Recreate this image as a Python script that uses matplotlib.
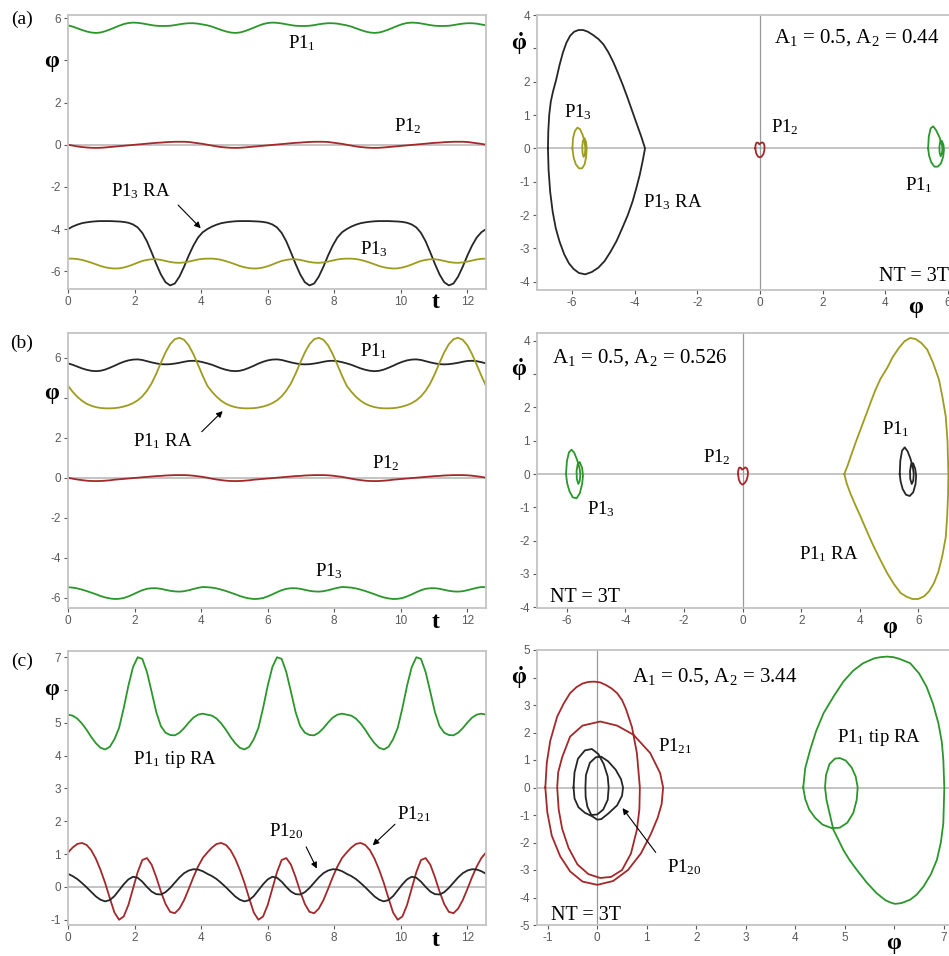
import numpy as np
import matplotlib
matplotlib.use('Agg')
import matplotlib.pyplot as plt

plt.rcParams['font.family'] = ['Liberation Serif', 'DejaVu Serif']
plt.rcParams['mathtext.fontset'] = 'custom'
plt.rcParams['mathtext.rm'] = 'Liberation Serif'
plt.rcParams['mathtext.it'] = 'Liberation Serif:italic'
plt.rcParams['mathtext.bf'] = 'Liberation Serif:bold'

# forcing period, NT = 3T over t in [0, 4*pi]
T = 4 * np.pi / 3
N_PER = 30

# ---- time series, one period each (30 samples, dt = T/30) ----
a_p11 = [5.66, 5.60, 5.52, 5.44, 5.37, 5.32, 5.30, 5.32, 5.38, 5.46,
         5.55, 5.64, 5.72, 5.77, 5.79, 5.78, 5.75, 5.71, 5.67, 5.64,
         5.63, 5.63, 5.64, 5.67, 5.71, 5.74, 5.76, 5.76, 5.74, 5.70]
a_p12 = [0.00, -0.04, -0.08, -0.11, -0.13, -0.145, -0.15, -0.145, -0.13, -0.11,
         -0.09, -0.07, -0.05, -0.03, -0.01, 0.01, 0.03, 0.05, 0.07, 0.09,
         0.10, 0.12, 0.13, 0.14, 0.14, 0.14, 0.13, 0.10, 0.07, 0.04]
a_p13ra = [-4.00, -3.88, -3.79, -3.72, -3.68, -3.65, -3.63, -3.62, -3.62, -3.62,
           -3.63, -3.64, -3.66, -3.70, -3.78, -3.92, -4.18, -4.58, -5.10, -5.65,
           -6.15, -6.52, -6.67, -6.58, -6.25, -5.78, -5.25, -4.78, -4.40, -4.15]
a_p13 = [-5.40, -5.40, -5.42, -5.46, -5.52, -5.59, -5.67, -5.75, -5.81, -5.85,
         -5.87, -5.86, -5.82, -5.76, -5.68, -5.59, -5.51, -5.46, -5.43, -5.43,
         -5.46, -5.51, -5.56, -5.59, -5.60, -5.58, -5.54, -5.49, -5.44, -5.41]

b_p11 = [5.72, 5.65, 5.56, 5.47, 5.40, 5.35, 5.33, 5.35, 5.41, 5.50,
         5.60, 5.71, 5.80, 5.87, 5.91, 5.92, 5.89, 5.83, 5.77, 5.72,
         5.68, 5.67, 5.68, 5.71, 5.75, 5.80, 5.84, 5.85, 5.83, 5.78]
b_p11ra = [4.60, 4.30, 4.05, 3.85, 3.70, 3.60, 3.53, 3.49, 3.47, 3.47,
           3.48, 3.51, 3.56, 3.63, 3.73, 3.87, 4.07, 4.35, 4.72, 5.20,
           5.75, 6.27, 6.68, 6.93, 7.00, 6.90, 6.62, 6.18, 5.65, 5.10]
b_p12 = [0.00, -0.05, -0.09, -0.12, -0.15, -0.165, -0.17, -0.165, -0.15, -0.13,
         -0.10, -0.08, -0.06, -0.04, -0.02, 0.00, 0.02, 0.04, 0.06, 0.08,
         0.09, 0.11, 0.12, 0.13, 0.13, 0.13, 0.12, 0.10, 0.07, 0.04]
b_p13 = [-5.48, -5.50, -5.54, -5.60, -5.67, -5.75, -5.83, -5.92, -5.99, -6.04,
         -6.07, -6.06, -6.02, -5.94, -5.84, -5.73, -5.63, -5.56, -5.53, -5.53,
         -5.56, -5.61, -5.66, -5.69, -5.70, -5.68, -5.63, -5.57, -5.51, -5.47]

c_tip = [5.25, 5.22, 5.13, 4.98, 4.79, 4.57, 4.38, 4.24, 4.19, 4.27,
         4.50, 4.85, 5.45, 6.13, 6.70, 7.00, 6.95, 6.55, 5.95, 5.33,
         4.90, 4.70, 4.63, 4.62, 4.70, 4.84, 5.01, 5.16, 5.25, 5.28]
c_p120 = [0.40, 0.33, 0.24, 0.12, -0.01, -0.15, -0.29, -0.39, -0.44, -0.40,
          -0.28, -0.10, 0.08, 0.23, 0.31, 0.28, 0.16, 0.00, -0.14, -0.22,
          -0.23, -0.16, -0.03, 0.13, 0.29, 0.42, 0.50, 0.54, 0.53, 0.48]
c_p121 = [1.05, 1.20, 1.31, 1.34, 1.28, 1.12, 0.86, 0.52, 0.12, -0.34,
          -0.78, -1.00, -0.90, -0.55, -0.05, 0.45, 0.82, 0.88, 0.68, 0.30,
          -0.14, -0.52, -0.76, -0.80, -0.66, -0.40, -0.06, 0.30, 0.62, 0.88]

# ---- phase portraits (phi, dphi), traced loops ----
a_ra_phi = [-6.77, -6.76, -6.73, -6.68, -6.61, -6.51, -6.40, -6.29, -6.18, -6.06, -5.93,
            -5.79, -5.65, -5.50, -5.33, -5.16, -5.00, -4.84, -4.68, -4.53, -4.38, -4.23,
            -4.08, -3.93, -3.79, -3.67,
            -3.75, -3.84, -3.95, -4.07, -4.22, -4.40, -4.58, -4.77, -4.96, -5.16, -5.37,
            -5.58, -5.78, -5.95, -6.10, -6.25, -6.40, -6.52, -6.62, -6.70, -6.75, -6.77]
a_ra_dphi = [0.00, 0.50, 1.00, 1.40, 1.70, 2.05, 2.50, 2.88, 3.17, 3.38, 3.50,
             3.55, 3.55, 3.50, 3.40, 3.28, 3.12, 2.88, 2.58, 2.25, 1.90, 1.52,
             1.12, 0.72, 0.35, 0.00,
             -0.40, -0.80, -1.20, -1.60, -2.00, -2.40, -2.78, -3.10, -3.38, -3.58, -3.71,
             -3.78, -3.74, -3.62, -3.45, -3.18, -2.80, -2.40, -1.90, -1.30, -0.65, 0.00]
a_p13_phi = [-5.99, -5.97, -5.91, -5.83, -5.75, -5.67, -5.60, -5.575, -5.59, -5.63, -5.665, -5.675,
             -5.655, -5.60, -5.55, -5.535, -5.55, -5.60, -5.68, -5.78, -5.88, -5.95, -5.99]
a_p13_dphi = [0.0, 0.30, 0.52, 0.62, 0.58, 0.42, 0.20, 0.0, -0.18, -0.26, -0.15, 0.05,
              0.22, 0.30, 0.18, 0.0, -0.25, -0.48, -0.60, -0.60, -0.48, -0.28, 0.0]
a_p11_phi = [5.37, 5.39, 5.45, 5.53, 5.62, 5.72, 5.80, 5.83, 5.81, 5.77, 5.735, 5.73,
             5.76, 5.81, 5.86, 5.875, 5.85, 5.78, 5.68, 5.57, 5.47, 5.40, 5.37]
a_p11_dphi = [0.0, 0.35, 0.60, 0.66, 0.55, 0.36, 0.15, 0.0, -0.15, -0.24, -0.12, 0.06,
              0.22, 0.22, 0.10, -0.05, -0.25, -0.45, -0.55, -0.55, -0.42, -0.22, 0.0]
a_p12_phi = [-0.15, -0.14, -0.11, -0.06, -0.02, 0.02, 0.07, 0.12, 0.145, 0.14,
             0.11, 0.05, -0.01, -0.07, -0.12, -0.15]
a_p12_dphi = [0.0, 0.10, 0.17, 0.17, 0.12, 0.15, 0.18, 0.15, 0.06, -0.06,
              -0.17, -0.25, -0.27, -0.24, -0.15, 0.0]

b_ra_phi = [3.47, 3.60, 3.73, 3.87, 4.02, 4.19, 4.36, 4.52, 4.70, 4.93, 5.13, 5.33, 5.52,
            5.71, 5.90, 6.10, 6.30, 6.50, 6.70, 6.82, 6.93, 6.99, 7.02,
            7.01, 6.98, 6.93, 6.81, 6.68, 6.53, 6.36, 6.19, 5.99, 5.79, 5.59, 5.39, 5.16,
            4.93, 4.70, 4.47, 4.24, 4.02, 3.84, 3.67, 3.55, 3.47]
b_ra_dphi = [0.00, 0.30, 0.63, 0.98, 1.33, 1.73, 2.13, 2.50, 2.85, 3.18, 3.52, 3.78, 3.98,
             4.08, 4.05, 3.93, 3.73, 3.33, 2.83, 2.30, 1.73, 1.00, 0.00,
             -0.60, -1.27, -1.90, -2.47, -2.93, -3.27, -3.52, -3.67, -3.75, -3.75, -3.68, -3.57, -3.30,
             -2.97, -2.58, -2.17, -1.72, -1.27, -0.92, -0.57, -0.28, 0.00]
b_p11_phi = [5.36, 5.38, 5.44, 5.53, 5.63, 5.73, 5.81, 5.84, 5.82, 5.77, 5.72, 5.71,
             5.75, 5.82, 5.89, 5.92, 5.90, 5.82, 5.70, 5.57, 5.46, 5.39, 5.36]
b_p11_dphi = [0.0, 0.40, 0.70, 0.80, 0.68, 0.45, 0.18, 0.0, -0.20, -0.30, -0.15, 0.08,
              0.30, 0.32, 0.15, -0.05, -0.30, -0.55, -0.66, -0.62, -0.45, -0.22, 0.0]
b_p13_phi = [-6.03, -6.00, -5.93, -5.84, -5.75, -5.65, -5.57, -5.54, -5.56, -5.61, -5.66, -5.67,
             -5.63, -5.56, -5.48, -5.45, -5.48, -5.56, -5.67, -5.80, -5.91, -5.99, -6.03]
b_p13_dphi = [0.0, 0.38, 0.65, 0.73, 0.64, 0.42, 0.18, 0.0, -0.20, -0.30, -0.15, 0.08,
              0.30, 0.36, 0.18, -0.05, -0.30, -0.58, -0.73, -0.70, -0.52, -0.28, 0.0]
b_p12_phi = [-0.16, -0.15, -0.12, -0.07, -0.02, 0.03, 0.09, 0.15, 0.18, 0.17,
             0.13, 0.06, -0.01, -0.08, -0.13, -0.16]
b_p12_dphi = [0.0, 0.11, 0.19, 0.19, 0.13, 0.16, 0.20, 0.16, 0.06, -0.07,
              -0.19, -0.28, -0.32, -0.27, -0.17, 0.0]

c_p121_phi = [-1.05, -1.02, -0.95, -0.81, -0.68, -0.55, -0.42, -0.30, -0.18, -0.06, 0.06, 0.18,
              0.29, 0.40, 0.50, 0.58, 0.70, 0.80, 0.86,
              0.85, 0.80, 0.68, 0.50, 0.28, 0.06, -0.18, -0.40, -0.58, -0.71, -0.78, -0.81,
              -0.79, -0.71, -0.55, -0.30, 0.06, 0.40, 0.73, 1.07, 1.27, 1.33,
              1.30, 1.22, 1.08, 0.88, 0.62, 0.32, 0.00, -0.30, -0.55, -0.75, -0.92, -1.01, -1.05]
c_p121_dphi = [0.0, 0.9, 1.7, 2.58, 3.05, 3.43, 3.65, 3.78, 3.84, 3.85, 3.82, 3.72,
               3.60, 3.43, 3.18, 2.85, 2.20, 1.25, 0.0,
               -0.8, -1.54, -2.40, -3.00, -3.25, -3.29, -3.15, -2.80, -2.20, -1.50, -0.80, 0.0,
               0.55, 1.10, 1.85, 2.25, 2.40, 2.25, 1.92, 1.25, 0.52, 0.0,
               -0.60, -1.10, -1.70, -2.40, -3.00, -3.40, -3.54, -3.42, -3.05, -2.50, -1.75, -0.90, 0.0]
c_p120_phi = [-0.48, -0.46, -0.39, -0.25, -0.11, 0.02, 0.13, 0.21, 0.23,
              0.21, 0.12, 0.00, -0.12, -0.20, -0.235, -0.24,
              -0.23, -0.15, -0.03, 0.08, 0.22, 0.37, 0.48, 0.52,
              0.50, 0.40, 0.22, 0.08, 0.00, -0.10, -0.25, -0.38, -0.46, -0.48]
c_p120_dphi = [0.0, 0.55, 1.05, 1.35, 1.40, 1.22, 0.85, 0.40, 0.0,
               -0.45, -0.80, -0.98, -1.00, -0.70, -0.35, 0.0,
               0.45, 0.90, 1.10, 1.12, 0.95, 0.65, 0.30, 0.0,
               -0.30, -0.65, -0.95, -1.15, -1.17, -1.05, -0.92, -0.72, -0.40, 0.0]
c_tip_phi = [4.16, 4.20, 4.30, 4.42, 4.57, 4.77, 4.97, 5.17, 5.37, 5.60, 5.72, 5.85, 5.98, 6.10,
             6.32, 6.50, 6.65, 6.78, 6.89, 6.96, 6.99, 7.01,
             6.99, 6.94, 6.86, 6.74, 6.59, 6.45, 6.32, 6.15, 6.08, 6.01, 5.92, 5.82, 5.64, 5.44,
             5.24, 5.10, 4.97, 4.87, 4.77, 4.70, 4.63, 4.60,
             4.62, 4.69, 4.80, 4.90, 5.02, 5.14, 5.22, 5.26,
             5.24, 5.17, 5.05, 4.90, 4.74, 4.55, 4.40, 4.28, 4.20, 4.16]
c_tip_dphi = [0.0, 0.7, 1.37, 2.05, 2.70, 3.30, 3.85, 4.25, 4.52, 4.70, 4.74, 4.76, 4.74, 4.68,
              4.52, 4.15, 3.67, 3.05, 2.34, 1.65, 1.0, 0.0,
              -1.30, -2.0, -2.63, -3.15, -3.60, -3.90, -4.08, -4.20, -4.22, -4.23, -4.18, -4.10, -3.84, -3.45,
              -2.99, -2.65, -2.27, -1.90, -1.54, -1.0, -0.45, 0.0,
              0.45, 0.85, 1.05, 1.07, 0.98, 0.72, 0.40, 0.0,
              -0.45, -0.93, -1.28, -1.46, -1.48, -1.35, -1.10, -0.80, -0.42, 0.0]

# tick labels (some hidden behind the axis symbols)
left_ab_yticks = [-6, -4, -2, 0, 2, 4, 6]
left_ab_ylabels = ['-6', '-4', '-2', '0', '2', '', '6']
left_c_yticks = [-1, 0, 1, 2, 3, 4, 5, 6, 7]
left_c_ylabels = ['-1', '0', '1', '2', '3', '4', '5', '', '7']
t_ticks = [0, 2, 4, 6, 8, 10, 12]
t_labels = ['0', '2', '4', '6', '8', '10', '12']
right_ab_xticks = [-6, -4, -2, 0, 2, 4, 6]
right_ab_xlabels = ['-6', '-4', '-2', '0', '2', '4', '6']
right_ab_yticks = [-4, -3, -2, -1, 0, 1, 2, 3, 4]
right_ab_ylabels = ['-4', '-3', '-2', '-1', '0', '1', '2', '', '4']
right_c_xticks = [-1, 0, 1, 2, 3, 4, 5, 6, 7]
right_c_xlabels = ['-1', '0', '1', '2', '3', '4', '5', '', '7']
right_c_yticks = [-5, -4, -3, -2, -1, 0, 1, 2, 3, 4, 5]
right_c_ylabels = ['-5', '-4', '-3', '-2', '-1', '0', '1', '2', '3', '', '5']

GREEN = '#2b962b'
RED = '#a3282a'
OLIVE = '#9e9c1e'
BLACK = '#262626'

W, H = 949, 956
fig = plt.figure(figsize=(W / 100, H / 100), dpi=100)


def px_axes(x0, y0, x1, y1):
    return fig.add_axes([x0 / W, 1 - y1 / H, (x1 - x0) / W, (y1 - y0) / H])


def periodic(vals):
    # the motion repeats every T, three periods are drawn
    t = np.arange(3 * N_PER + 1) * T / N_PER
    return t, np.append(np.tile(vals, 3), vals[0])


def style(ax, xlim, ylim, xticks, xlabels, yticks, ylabels, vline=False):
    ax.set_xlim(xlim)
    ax.set_ylim(ylim)
    ax.set_xticks(xticks)
    ax.set_xticklabels(xlabels)
    ax.set_yticks(yticks)
    ax.set_yticklabels(ylabels)
    for s in ax.spines.values():
        s.set_color('#c4c4c4')
        s.set_linewidth(1.3)
    ax.tick_params(colors='#5a5a5a', labelsize=8.5, length=3, width=0.8,
                   direction='out', labelfontfamily='Liberation Sans', pad=2)
    ax.axhline(0, color='#b4b4b4', lw=1.1, zorder=1)
    if vline:
        ax.axvline(0, color='#9a9a9a', lw=0.9, zorder=1)


def lab(ax, x, y, s, size=13.5):
    ax.text(x, y, s, fontsize=size, ha='left', va='baseline')


def arrow(ax, start, end):
    ax.annotate('', xy=end, xytext=start,
                arrowprops=dict(arrowstyle='-|>', color='k', lw=0.8,
                                mutation_scale=9, shrinkA=0, shrinkB=0))


LW = 1.3

# ---------------- row (a) ----------------
ax = px_axes(68, 15, 486, 289)
style(ax, (0, 4 * np.pi), (-6.84, 6.15), t_ticks, t_labels, left_ab_yticks, left_ab_ylabels)
for vals, col in [(a_p11, GREEN), (a_p12, RED), (a_p13ra, BLACK), (a_p13, OLIVE)]:
    ax.plot(*periodic(vals), color=col, lw=LW)
lab(ax, 6.6, 4.55, r'P1$_1$')
lab(ax, 9.8, 0.62, r'P1$_2$')
lab(ax, 1.29, -2.46, r'P1$_3$ RA')
lab(ax, 8.78, -5.18, r'P1$_3$')
arrow(ax, (3.31, -2.86), (3.99, -3.96))

ax = px_axes(537, 15, 951, 290)
style(ax, (-7.12, 6.10), (-4.25, 4.0), right_ab_xticks, right_ab_xlabels,
      right_ab_yticks, right_ab_ylabels, vline=True)
ax.plot(a_ra_phi, a_ra_dphi, color=BLACK, lw=LW)
ax.plot(a_p13_phi, a_p13_dphi, color=OLIVE, lw=LW)
ax.plot(a_p11_phi, a_p11_dphi, color=GREEN, lw=LW)
ax.plot(a_p12_phi, a_p12_dphi, color=RED, lw=LW)
lab(ax, 0.45, 3.18, r'A$_1$ = 0.5, A$_2$ = 0.44', 15)
lab(ax, -6.25, 0.93, r'P1$_3$')
lab(ax, 0.35, 0.47, r'P1$_2$')
lab(ax, -3.72, -1.77, r'P1$_3$ RA')
lab(ax, 4.62, -1.25, r'P1$_1$')
lab(ax, 3.81, -3.98, 'NT = 3T', 14.5)

# ---------------- row (b) ----------------
ax = px_axes(68, 333, 486, 608)
style(ax, (0, 4 * np.pi), (-6.52, 7.24), t_ticks, t_labels, left_ab_yticks, left_ab_ylabels)
for vals, col in [(b_p11, BLACK), (b_p11ra, OLIVE), (b_p12, RED), (b_p13, GREEN)]:
    ax.plot(*periodic(vals), color=col, lw=LW)
lab(ax, 8.78, 6.07, r'P1$_1$')
lab(ax, 1.95, 1.55, r'P1$_1$ RA')
lab(ax, 9.14, 0.47, r'P1$_2$')
lab(ax, 7.43, -4.95, r'P1$_3$')
arrow(ax, (4.02, 2.3), (4.65, 3.33))

ax = px_axes(537, 333, 951, 608)
style(ax, (-7.02, 7.11), (-4.02, 4.23), right_ab_xticks, right_ab_xlabels,
      right_ab_yticks, right_ab_ylabels, vline=True)
ax.plot(b_ra_phi, b_ra_dphi, color=OLIVE, lw=LW)
ax.plot(b_p11_phi, b_p11_dphi, color=BLACK, lw=LW)
ax.plot(b_p13_phi, b_p13_dphi, color=GREEN, lw=LW)
ax.plot(b_p12_phi, b_p12_dphi, color=RED, lw=LW)
lab(ax, -6.5, 3.33, r'A$_1$ = 0.5, A$_2$ = 0.526', 15)
lab(ax, -1.36, 0.36, r'P1$_2$')
lab(ax, -5.33, -1.22, r'P1$_3$')
lab(ax, 4.77, 1.18, r'P1$_1$')
lab(ax, 1.93, -2.57, r'P1$_1$ RA')
lab(ax, -6.56, -3.84, 'NT = 3T', 14.5)

# ---------------- row (c) ----------------
ax = px_axes(68, 651, 486, 925)
style(ax, (0, 4 * np.pi), (-1.16, 7.19), t_ticks, t_labels, left_c_yticks, left_c_ylabels)
for vals, col in [(c_tip, GREEN), (c_p121, RED), (c_p120, BLACK)]:
    ax.plot(*periodic(vals), color=col, lw=LW)
lab(ax, 1.95, 3.74, r'P1$_1$ tip RA')
lab(ax, 6.05, 1.53, r'P1$_{20}$')
lab(ax, 9.89, 2.06, r'P1$_{21}$')
arrow(ax, (7.16, 1.22), (7.48, 0.56))
arrow(ax, (9.83, 1.91), (9.16, 1.27))

ax = px_axes(537, 650, 951, 925)
style(ax, (-1.218, 7.145), (-5, 5), right_c_xticks, right_c_xlabels,
      right_c_yticks, right_c_ylabels, vline=True)
ax.plot(c_p121_phi, c_p121_dphi, color=RED, lw=LW)
ax.plot(c_p120_phi, c_p120_dphi, color=BLACK, lw=LW)
ax.plot(c_tip_phi, c_tip_dphi, color=GREEN, lw=LW)
lab(ax, 0.70, 3.85, r'A$_1$ = 0.5, A$_2$ = 3.44', 15)
lab(ax, 1.23, 1.31, r'P1$_{21}$')
lab(ax, 1.40, -3.09, r'P1$_{20}$')
lab(ax, 4.84, 1.67, r'P1$_1$ tip RA')
lab(ax, -0.93, -4.81, 'NT = 3T', 14.5)
arrow(ax, (1.18, -2.36), (0.51, -0.75))

# ---------------- panel letters and axis symbols ----------------
def ftext(x, y, s, **kw):
    fig.text(x / W, 1 - y / H, s, ha='center', va='center', **kw)


for (x, y), s in zip([(22, 19), (22, 343), (22, 661)], ['(a)', '(b)', '(c)']):
    ftext(x, y, s, fontsize=14)
for y in [62, 394, 689]:
    ftext(52, y, 'φ', fontsize=17, fontweight='bold')
for y in [44, 370, 678]:
    ftext(519, y, r'$\mathbf{\dot{φ}}$', fontsize=17)
for y in [302, 622, 940]:
    ftext(436, y, 't', fontsize=17, fontweight='bold')
for x, y in [(916, 308), (890, 627), (894, 943)]:
    ftext(x, y, 'φ', fontsize=17, fontweight='bold')

fig.savefig('out.png', dpi=100)
